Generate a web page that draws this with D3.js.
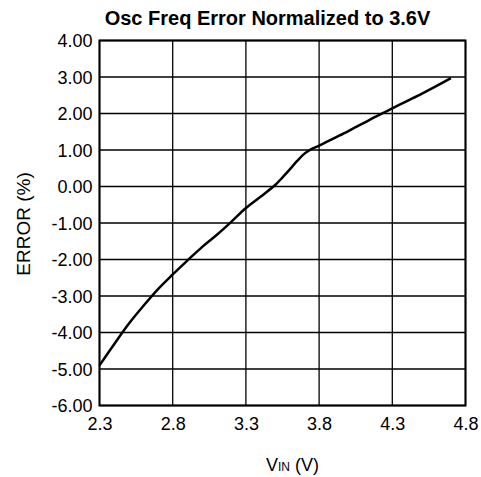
<!DOCTYPE html>
<html>
<head>
<meta charset="utf-8">
<script src="https://cdnjs.cloudflare.com/ajax/libs/d3/7.8.5/d3.min.js"></script>
<style>
	body { margin: 0; background: #fff; }
	svg text { font-family: "Liberation Sans", Arial, sans-serif; fill: #000; }
</style>
</head>
<body>
<svg id="chart" width="481" height="477"></svg>
<script>
// supply voltage (V)
var vin = [2.30, 2.40, 2.50, 2.60, 2.70, 2.80, 2.90, 3.00, 3.10, 3.20, 3.30, 3.40, 3.50,
	3.55, 3.60, 3.65, 3.70, 3.75, 3.80, 3.90, 4.00, 4.10, 4.20, 4.30, 4.40, 4.50, 4.60, 4.70]
// frequency error (%)
var errPct = [-4.90, -4.32, -3.76, -3.27, -2.81, -2.41, -2.03, -1.66, -1.33, -0.97, -0.59, -0.28, 0.04,
	0.25, 0.47, 0.70, 0.90, 1.03, 1.12, 1.32, 1.52, 1.73, 1.94, 2.14, 2.34, 2.54, 2.75, 2.97]

var xTicks = [2.3, 2.8, 3.3, 3.8, 4.3, 4.8]
var yTicks = [-6, -5, -4, -3, -2, -1, 0, 1, 2, 3, 4]

var margin = {
	'left' : 99.5,
	'right' : 15.5,
	'top' : 40.5,
	'bottom' : 71.5,
}

var svg = d3.select('#chart')
var width = 481 - margin.left - margin.right
var height = 477 - margin.top - margin.bottom

var graph = svg.append('g')
	.attr('transform', 'translate(' + margin.left + ',' + margin.top + ')')

var xscale = d3.scaleLinear().domain([2.3, 4.8]).range([0, width])
var yscale = d3.scaleLinear().domain([-6, 4]).range([height, 0])

// hyphen minus like the original, not the unicode one d3 uses
var fmt = function(p) {
	var f = d3.format(p)
	return d => f(d).replace('\u2212', '-')
}

// grid
graph.append('g').selectAll('line').data(xTicks)
	.enter().append('line')
	.attr('x1', d => xscale(d)).attr('x2', d => xscale(d))
	.attr('y1', 0).attr('y2', height)
	.attr('stroke', '#000').attr('stroke-width', 1.3)
graph.append('g').selectAll('line').data(yTicks)
	.enter().append('line')
	.attr('x1', 0).attr('x2', width)
	.attr('y1', d => yscale(d)).attr('y2', d => yscale(d))
	.attr('stroke', '#000').attr('stroke-width', 1.3)

// axes (labels only)
var xAxis = graph.append('g')
	.attr('transform', 'translate(0,' + height + ')')
	.call(d3.axisBottom(xscale).tickValues(xTicks).tickFormat(fmt('.1f')).tickSize(0).tickPadding(0))
var yAxis = graph.append('g')
	.call(d3.axisLeft(yscale).tickValues(yTicks).tickFormat(fmt('.2f')).tickSize(0).tickPadding(7))
xAxis.select('.domain').remove()
yAxis.select('.domain').remove()
graph.selectAll('.tick text')
	.style('font-family', '"Liberation Sans", Arial, sans-serif')
	.style('font-size', '18px')
	.attr('fill', '#000')
yAxis.selectAll('.tick text').attr('dy', '0.35em')
xAxis.selectAll('.tick text').attr('y', 24).attr('dy', 0)

// frame
graph.append('rect')
	.attr('width', width).attr('height', height)
	.attr('fill', 'none').attr('stroke', '#000').attr('stroke-width', 2)

// curve
var line = d3.line()
	.x((d, i) => xscale(vin[i]))
	.y(d => yscale(d))
	.curve(d3.curveCatmullRom.alpha(0.5))
graph.append('path')
	.datum(errPct)
	.attr('d', line)
	.attr('fill', 'none')
	.attr('stroke', '#000')
	.attr('stroke-width', 2.5)

// titles
svg.append('text')
	.attr('x', 267.5).attr('y', 25)
	.attr('text-anchor', 'middle')
	.style('font-size', '20px')
	.style('font-weight', 'bold')
	.text('Osc Freq Error Normalized to 3.6V')

svg.append('text')
	.attr('transform', 'translate(' + 30 + ',' + 224 + ')rotate(-90)')
	.attr('text-anchor', 'middle')
	.style('font-size', '19px')
	.text('ERROR (%)')

var xl = svg.append('text')
	.attr('x', 266).attr('y', 471)
	.style('font-size', '18px')
xl.append('tspan').text('V')
xl.append('tspan').style('font-size', '12px').text('IN')
xl.append('tspan').text(' (V)')
</script>
</body>
</html>
